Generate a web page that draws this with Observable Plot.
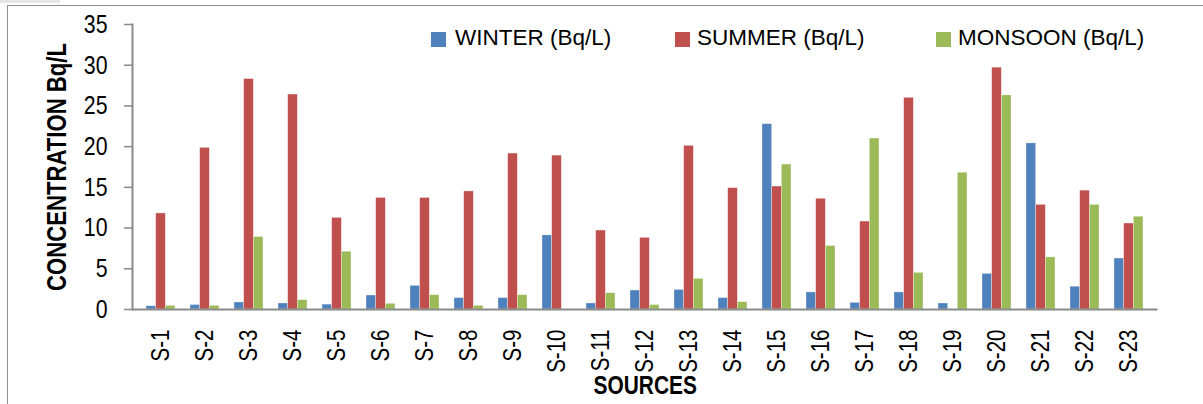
<!DOCTYPE html>
<html>
<head>
<meta charset="utf-8">
<script src="https://cdn.jsdelivr.net/npm/d3@7"></script>
<script src="https://cdn.jsdelivr.net/npm/@observablehq/plot@0.6"></script>
<style>
  html, body { margin: 0; padding: 0; background: #fff; }
  #wrap { position: relative; width: 1203px; height: 404px; overflow: hidden; background: #fff; }
  #border { position: absolute; left: 7px; top: 5px; right: 0; bottom: -5px; border-left: 1.5px solid #8f8f8f; border-top: 1.5px solid #8f8f8f; }
  #tab { position: absolute; left: 0; top: 0; width: 60px; height: 3px; background: #e6e6e6; }
  #chart { position: absolute; left: 0; top: 0; }
  .leg { position: absolute; top: 27px; font-family: "Liberation Sans", Arial, sans-serif; font-size: 22.5px; line-height: 22px; color: #000; white-space: nowrap; }
  .sw { position: absolute; top: 31.5px; width: 15px; height: 15px; }
</style>
</head>
<body>
<div id="wrap">
  <div id="tab"></div>
  <div id="border"></div>
  <div id="chart"></div>
  <div class="sw" style="left:431px;background:#4F81BD"></div>
  <div class="leg" style="left:455px">WINTER (Bq/L)</div>
  <div class="sw" style="left:675px;background:#C0504D"></div>
  <div class="leg" style="left:697px">SUMMER (Bq/L)</div>
  <div class="sw" style="left:936px;background:#9BBB59"></div>
  <div class="leg" style="left:958px">MONSOON (Bq/L)</div>
</div>
<script>
const sources = ["S-1","S-2","S-3","S-4","S-5","S-6","S-7","S-8","S-9","S-10","S-11","S-12","S-13","S-14","S-15","S-16","S-17","S-18","S-19","S-20","S-21","S-22","S-23"];
const winter  = [0.4, 0.55, 0.86, 0.74, 0.6, 1.72, 2.9, 1.4, 1.4, 9.1, 0.74, 2.33, 2.4, 1.4, 22.76, 2.1, 0.82, 2.1, 0.74, 4.38, 20.4, 2.8, 6.26];
const summer  = [11.8, 19.85, 28.3, 26.4, 11.25, 13.7, 13.7, 14.5, 19.15, 18.9, 9.7, 8.8, 20.1, 14.9, 15.1, 13.6, 10.8, 26.0, 0, 29.7, 12.85, 14.6, 10.56];
const monsoon = [0.45, 0.45, 8.9, 1.15, 7.1, 0.7, 1.76, 0.45, 1.76, 0, 2.0, 0.55, 3.77, 0.9, 17.8, 7.8, 21.0, 4.5, 16.8, 26.3, 6.4, 12.85, 11.4];
const yTicks = [0, 5, 10, 15, 20, 25, 30, 35];
const yTitle = "CONCENTRATION Bq/L";
const xTitle = "SOURCES";

const rows = sources.map((s, i) => ({source: s, winter: winter[i], summer: summer[i], monsoon: monsoon[i]}));

const W = 1203, H = 404, mL = 132, mR = 45.5, mT = 24, mB = 95;
const pIn = 0.35, pOut = 0.175;
const step = (W - mL - mR) / (sources.length - pIn + 2 * pOut);
const bw = step * (1 - pIn);
const third = bw / 3;
const font = "'Liberation Sans', Arial, sans-serif";
const gray = "#8a8a8a";
const barStyle = {stroke: "#ffffff", strokeWidth: 0.6, strokeOpacity: 0.55};

const chart = Plot.plot({
  width: W, height: H,
  marginLeft: mL, marginRight: mR, marginTop: mT, marginBottom: mB,
  style: {fontFamily: font, color: "#000", background: "transparent"},
  x: {domain: sources, paddingInner: pIn, paddingOuter: pOut, axis: null},
  y: {domain: [0, 35], axis: null},
  marks: [
    Plot.barY(rows, {x: "source", y: "winter", fill: "#4F81BD", insetLeft: 0, insetRight: 2 * third, ...barStyle}),
    Plot.barY(rows, {x: "source", y: "summer", fill: "#C0504D", insetLeft: third, insetRight: third, ...barStyle}),
    Plot.barY(rows, {x: "source", y: "monsoon", fill: "#9BBB59", insetLeft: 2 * third, insetRight: 0, ...barStyle}),
    Plot.axisY({ticks: yTicks, tickSize: 8, tickPadding: 17, fontSize: 26, stroke: gray, fill: "#000", strokeWidth: 1.5, label: null}),
    Plot.axisX({tickRotate: -90, tickSize: 0, tickPadding: 20, fontSize: 25, fill: "#000", label: null}),
    Plot.frame({anchor: "left", stroke: gray, strokeWidth: 2}),
    Plot.ruleY([0], {stroke: gray, strokeWidth: 2}),
    Plot.text([yTitle], {text: d => d, frameAnchor: "left", rotate: -90, dx: -75, textAnchor: "middle", lineAnchor: "middle", fontWeight: "bold", fontSize: 27, fill: "#000"}),
    Plot.text([xTitle], {text: d => d, frameAnchor: "bottom", dy: 76, textAnchor: "middle", lineAnchor: "middle", fontWeight: "bold", fontSize: 25.5, fill: "#000"})
  ]
});
document.getElementById("chart").appendChild(chart);

// Narrow (condensed) look: compress each SVG text along its reading direction.
const sx = 0.82;
chart.querySelectorAll("text").forEach(t => {
  const xa = t.getAttribute("x");
  const x = xa && !isNaN(+xa) ? +xa : 0;
  const tr = t.getAttribute("transform") || "";
  t.setAttribute("transform", `${tr} translate(${x},0) scale(${sx},1)`);
  if (xa && !isNaN(+xa)) t.setAttribute("x", 0);
});
</script>
</body>
</html>
